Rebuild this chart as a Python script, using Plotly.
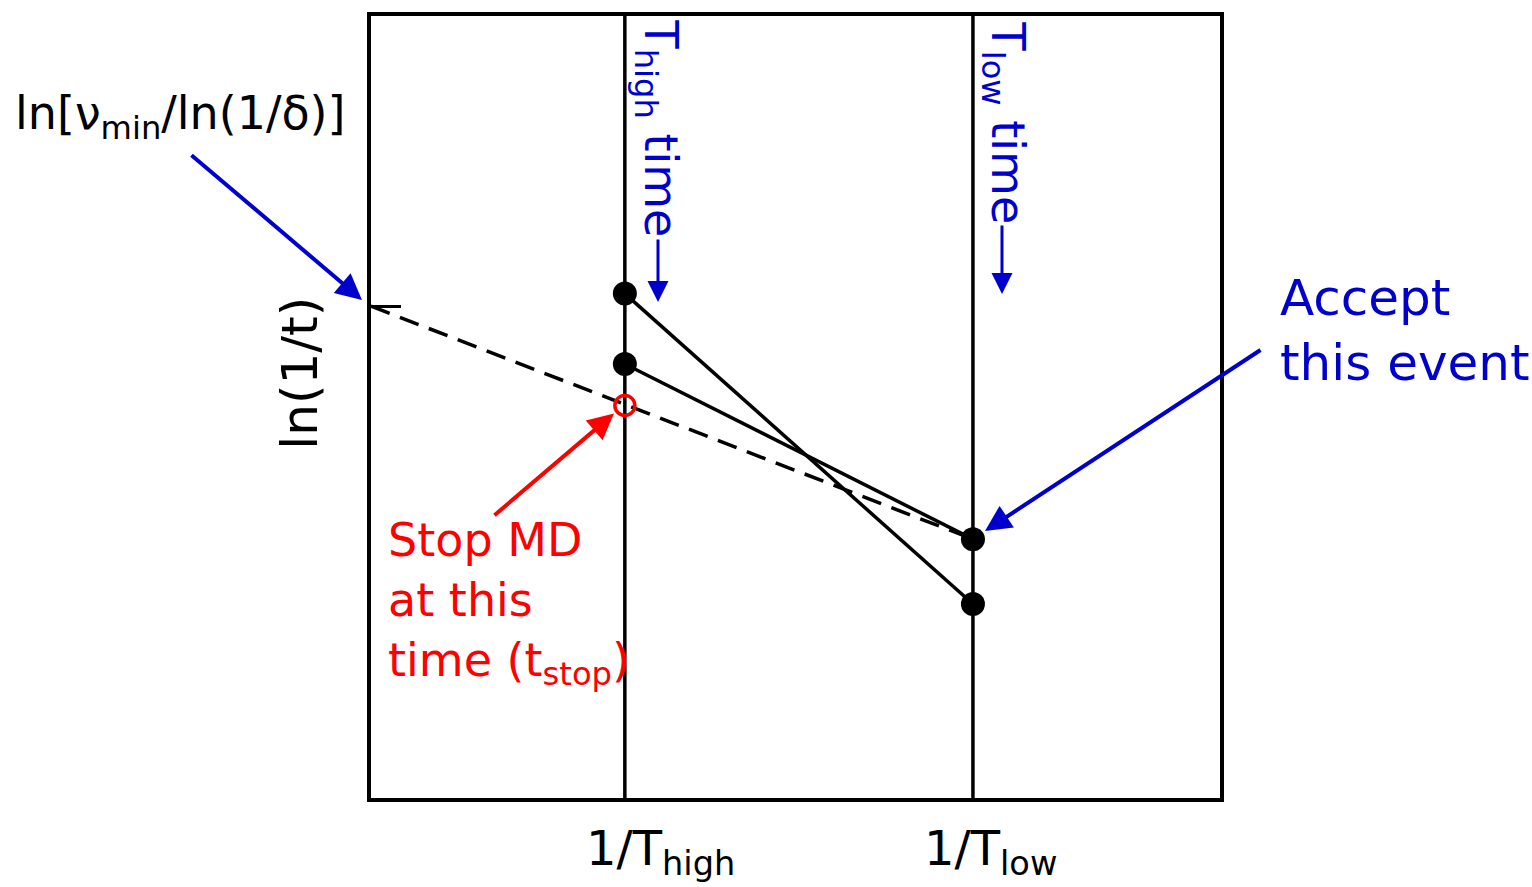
import plotly.graph_objects as go

# ---- data (arbitrary units) ----
inv_T = [0.299, 0.709]            # 1/T_high, 1/T_low
inv_T_labels = ["1/T<sub>high</sub>", "1/T<sub>low</sub>"]
event_a = [0.645, 0.248]          # ln(1/t) of event A at T_high, T_low
event_b = [0.555, 0.331]          # ln(1/t) of event B at T_high, T_low
intercept = 0.629                 # ln[nu_min/ln(1/delta)]
stop_value = 0.502                # ln(1/t_stop) at T_high

BLUE = "#0000CC"
RED = "#FF0000"
FONT = "DejaVu Sans"

fig = go.Figure()

# vertical temperature lines
for xv in inv_T:
    fig.add_trace(go.Scatter(x=[xv, xv], y=[0, 1], mode="lines",
                             line=dict(color="black", width=3.5), hoverinfo="skip"))

# dashed extrapolation line: from intercept at x=0 to the accepted event at T_low
fig.add_trace(go.Scatter(x=[0, inv_T[1]], y=[intercept, event_b[1]], mode="lines",
                         line=dict(color="black", width=3.5, dash="20px,11px")))

# event lines
fig.add_trace(go.Scatter(x=inv_T, y=event_a, mode="lines+markers",
                         line=dict(color="black", width=3.5),
                         marker=dict(color="black", size=24)))
fig.add_trace(go.Scatter(x=inv_T, y=event_b, mode="lines+markers",
                         line=dict(color="black", width=3.5),
                         marker=dict(color="black", size=24)))

# stop point
fig.add_trace(go.Scatter(x=[inv_T[0]], y=[stop_value], mode="markers",
                         marker=dict(symbol="circle-open", color=RED, size=20,
                                     line=dict(color=RED, width=3.5))))

def px_x(p):
    return (p - 371) / 849.0

def px_y(p):
    return (798 - p) / 785.0

def arrow(head, tail, color, width=4, size=1.3):
    return dict(x=px_x(head[0]), y=px_y(head[1]), xref="paper", yref="paper",
                ax=tail[0] - head[0], ay=tail[1] - head[1], axref="pixel", ayref="pixel",
                text="", showarrow=True, arrowhead=2, arrowsize=size, arrowwidth=width,
                arrowcolor=color, standoff=0)

def label(cx, cy, text, size, color, angle=0, xanchor="center", yanchor="middle", align="center"):
    return dict(x=px_x(cx), y=px_y(cy), xref="paper", yref="paper", text=text,
                showarrow=False, textangle=angle, xanchor=xanchor, yanchor=yanchor,
                align=align, font=dict(size=size, color=color, family=FONT))

ann = []
# axis labels
for xv, lab, sh in zip(inv_T, inv_T_labels, [36, 18]):
    ann.append(dict(x=xv, y=0, xref="x", yref="paper", text=lab, showarrow=False,
                    xshift=sh, yshift=-20, yanchor="top", xanchor="center",
                    font=dict(size=48, color="black", family=FONT)))
ann.append(label(300, 372, "ln(1/t)", 50, "black", angle=-90))
# intercept label
ann.append(label(180, 114, "ln[\u03bd<sub>min</sub>/ln(1/\u03b4)]", 46, "black"))
ann.append(arrow((362, 298), (190, 152), BLUE))
# vertical time labels
ann.append(label(657, 126, "T<sub>high</sub> time", 46, BLUE, angle=90))
ann.append(arrow((658, 300), (658, 236), BLUE, width=3, size=1.4))
ann.append(label(1004, 120, "T<sub>low</sub> time", 46, BLUE, angle=90))
ann.append(arrow((1002, 292), (1002, 222), BLUE, width=3, size=1.4))
# accept label
ann.append(label(1278, 265, "Accept<br>this event", 50, BLUE,
                 xanchor="left", yanchor="top", align="left"))
ann.append(arrow((985, 530), (1262, 348), BLUE))
# stop label
ann.append(label(386, 510, "Stop MD<br>at this<br>time (t<sub>stop</sub>)", 46, RED,
                 xanchor="left", yanchor="top", align="left"))
ann.append(arrow((614, 412), (493, 515), RED))

fig.update_layout(
    width=1532, height=887,
    margin=dict(l=371, r=312, t=13, b=89),
    paper_bgcolor="white", plot_bgcolor="white",
    showlegend=False,
    annotations=ann,
    xaxis=dict(range=[0, 1], showgrid=False, zeroline=False, showline=True,
               mirror=True, linecolor="black", linewidth=4,
               tickvals=inv_T, ticktext=["", ""], ticks="", fixedrange=True),
    yaxis=dict(range=[0, 1], showgrid=False, zeroline=False, showline=True,
               mirror=True, linecolor="black", linewidth=4,
               tickvals=[intercept], ticktext=[""], ticks="inside",
               ticklen=30, tickwidth=3, tickcolor="black", fixedrange=True),
)

fig.write_html("out.html")
